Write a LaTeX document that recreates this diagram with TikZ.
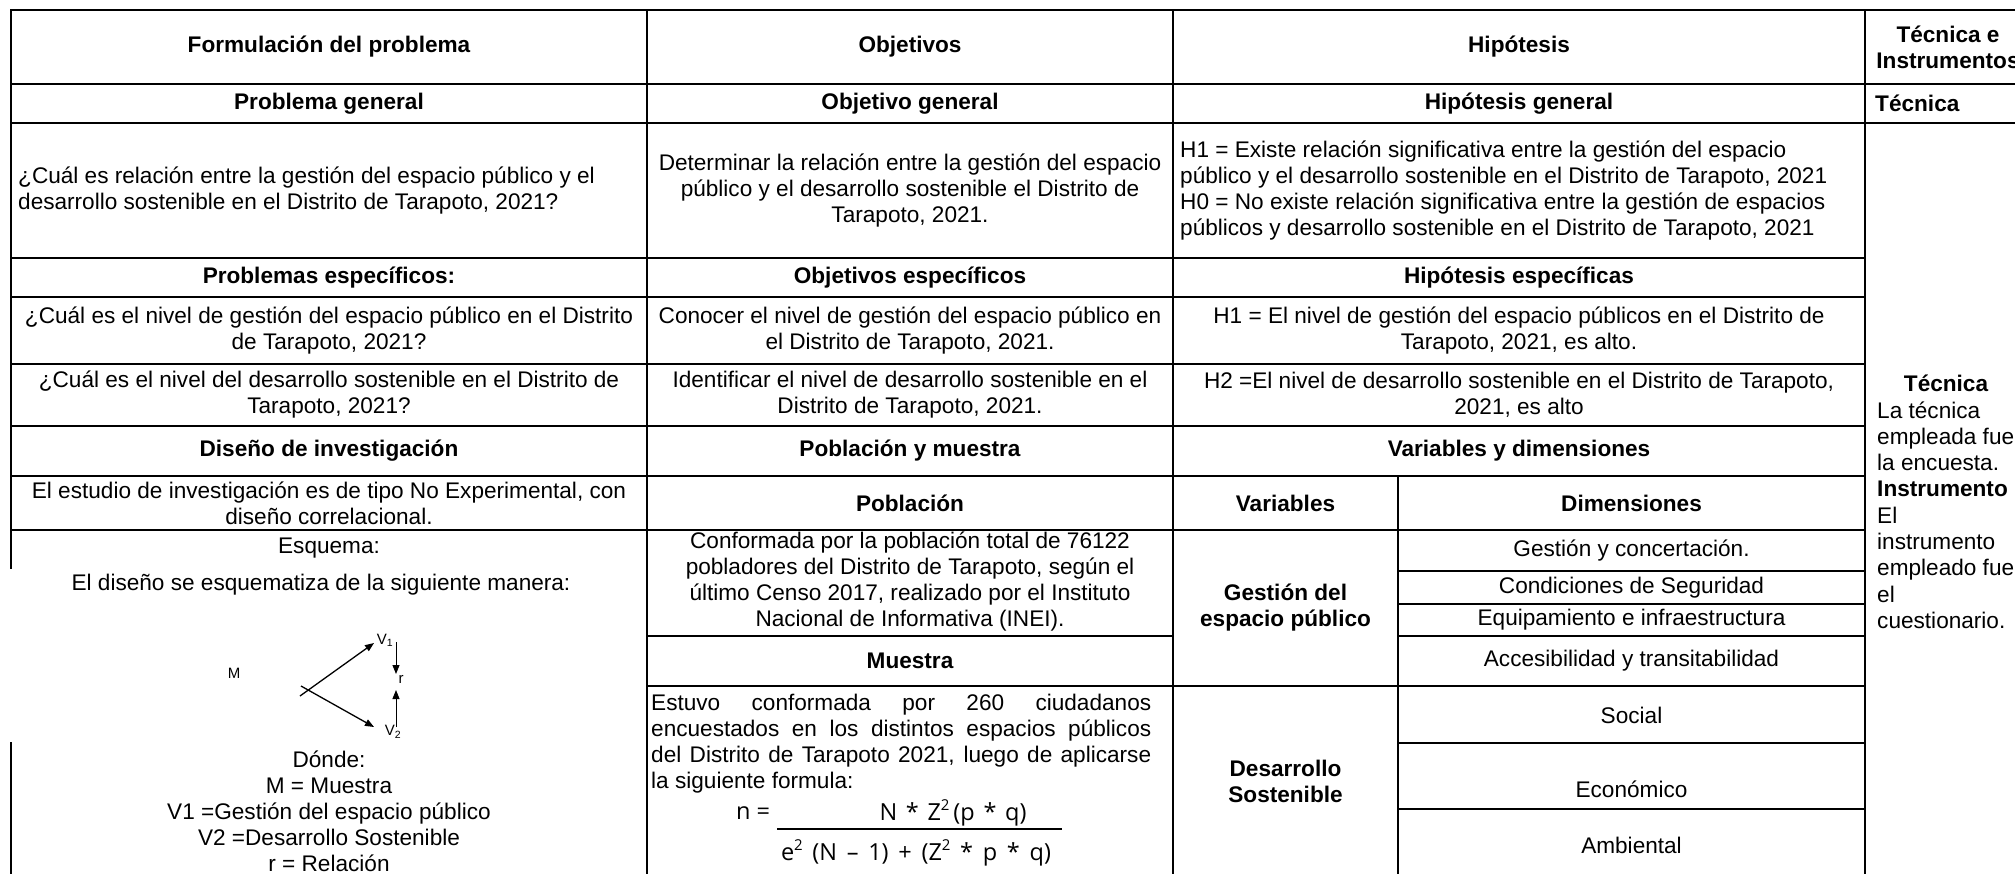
\documentclass[tikz,border=0pt]{standalone}
\usepackage{fontspec}
\setmainfont{Liberation Sans}
\newfontfamily\formfont{Open Sans}
\usetikzlibrary{arrows.meta}
\newcommand{\supii}{\raisebox{0.4em}{\fontsize{15}{15}\selectfont 2}}
\begin{document}
\begin{tikzpicture}[x=1pt,y=-1pt,
  tline/.style={line width=1.6pt, line cap=rect},
  txt/.style={inner sep=0pt, font=\fontsize{22.6}{26}\selectfont, align=center},
  hd/.style={inner sep=0pt, font=\fontsize{22.6}{26}\selectfont\bfseries, align=center},
  lft/.style={inner sep=0pt, font=\fontsize{22.6}{26}\selectfont, align=left, anchor=west},
  small/.style={inner sep=0pt, font=\fontsize{15}{18}\selectfont},
  frm/.style={inner sep=0pt, font=\formfont\fontsize{23.5}{26}\selectfont},
  dline/.style={line width=1.3pt},
  rline/.style={line width=0.9pt},
  tip/.style={-{Triangle[length=9pt,width=7pt]}}]
\useasboundingbox (0,0) rectangle (2015,873);
\clip (0,0) rectangle (2015,873);
\fill[white] (0,0) rectangle (2015,873);

% ---------- table rules ----------
\foreach \y in {10,84,123} \draw[tline] (11,\y) -- (2040,\y);
\foreach \y in {258,297,364,426,476,530} \draw[tline] (11,\y) -- (1865,\y);
\foreach \y in {636,686} \draw[tline] (647,\y) -- (1173,\y);
\draw[tline] (1173,686) -- (1865,686);
\foreach \y in {571,604,636,743,809} \draw[tline] (1398,\y) -- (1865,\y);
\draw[tline] (11,10) -- (11,568);
\draw[tline] (11,743) -- (11,880);
\foreach \x in {647,1173,1865} \draw[tline] (\x,10) -- (\x,880);
\draw[tline] (1398,476) -- (1398,880);

% ---------- column 1 ----------
\node[hd] (c1h) at (329,47) {Formulación del problema};
\node[hd] (c1pg) at (329,103.5) {Problema general};
\node[lft] (c1q) at (18,190.5) {¿Cuál es relación entre la gestión del espacio público y el\\desarrollo sostenible en el Distrito de Tarapoto, 2021?};
\node[hd] (c1pe) at (329,277.5) {Problemas específicos:};
\node[txt] (c1q1) at (329,330.5) {¿Cuál es el nivel de gestión del espacio público en el Distrito\\de Tarapoto, 2021?};
\node[txt] (c1q2) at (329,395) {¿Cuál es el nivel del desarrollo sostenible en el Distrito de\\Tarapoto, 2021?};
\node[hd] (c1di) at (329,451) {Diseño de investigación};
\node[txt] (c1es) at (329,503) {El estudio de investigación es de tipo No Experimental, con\\diseño correlacional.};
\node[txt] (c1esq) at (329,548) {Esquema:};
\node[txt] (c1dis) at (321,585) {El diseño se esquematiza de la siguiente manera:};
\node[txt] (c1don) at (329,811) {Dónde:\\M = Muestra\\V1 =Gestión del espacio público\\V2 =Desarrollo Sostenible\\r = Relación};

% diagram
\node[small] (M) at (234,673) {M};
\node[small] (V1) at (385,640) {V\textsubscript{1}};
\node[small] (V2) at (393,732) {V\textsubscript{2}};
\node[small] (r) at (401,679) {r};
\coordinate (a1s) at (300,696);
\coordinate (a1t) at (374,643);
\coordinate (a2s) at (301,686);
\coordinate (a2t) at (374,727);
\coordinate (r1s) at (396,642);
\coordinate (r1t) at (396,674);
\coordinate (r2s) at (396,727);
\coordinate (r2t) at (396,690);
\draw[dline,tip] (a1s) -- (a1t);
\draw[dline,tip] (a2s) -- (a2t);
\draw[rline,tip] (r1s) -- (r1t);
\draw[rline,tip] (r2s) -- (r2t);

% ---------- column 2 ----------
\node[hd] (c2h) at (910,47) {Objetivos};
\node[hd] (c2og) at (910,103.5) {Objetivo general};
\node[txt] (c2d) at (910,190.5) {Determinar la relación entre la gestión del espacio\\público y el desarrollo sostenible el Distrito de\\Tarapoto, 2021.};
\node[hd] (c2oe) at (910,277.5) {Objetivos específicos};
\node[txt] (c2o1) at (910,330.5) {Conocer el nivel de gestión del espacio público en\\el Distrito de Tarapoto, 2021.};
\node[txt] (c2o2) at (910,395) {Identificar el nivel de desarrollo sostenible en el\\Distrito de Tarapoto, 2021.};
\node[hd] (c2pm) at (910,451) {Población y muestra};
\node[hd] (c2p) at (910,503) {Población};
\node[txt] (c2pt) at (910,582) {Conformada por la población total de 76122\\pobladores del Distrito de Tarapoto, según el\\último Censo 2017, realizado por el Instituto\\Nacional de Informativa (INEI).};
\node[hd] (c2m) at (910,661) {Muestra};
\node[lft] (c2mt) at (651,744) {\makebox[500pt][s]{Estuvo conformada por 260 ciudadanos}\\\makebox[500pt][s]{encuestados en los distintos espacios públicos}\\\makebox[500pt][s]{del Distrito de Tarapoto 2021, luego de aplicarse}\\la siguiente formula:};
% formula
\node[frm] (fn) at (753,813) {n =};
\node[frm] (fnum) at (953,813) {\makebox[147pt][s]{N * Z\supii\,(p * q)}};
\node[frm] (fden) at (916,853) {\makebox[270pt][s]{e\supii\ (N – 1) + (Z\supii\ * p * q)}};
\coordinate (fl1) at (777,829);
\coordinate (fl2) at (1062,829);
\draw[line width=1.2pt] (fl1) -- (fl2);

% ---------- column 3 ----------
\node[hd] (c3h) at (1519,47) {Hipótesis};
\node[hd] (c3hg) at (1519,103.5) {Hipótesis general};
\node[lft] (c3ht) at (1180,191) {H1 = Existe relación significativa entre la gestión del espacio\\público y el desarrollo sostenible en el Distrito de Tarapoto, 2021\\H0 = No existe relación significativa entre la gestión de espacios\\públicos y desarrollo sostenible en el Distrito de Tarapoto, 2021};
\node[hd] (c3he) at (1519,277.5) {Hipótesis específicas};
\node[txt] (c3h1) at (1519,330.5) {H1 = El nivel de gestión del espacio públicos en el Distrito de\\Tarapoto, 2021, es alto.};
\node[txt] (c3h2) at (1519,395) {H2 =El nivel de desarrollo sostenible en el Distrito de Tarapoto,\\2021, es alto};
\node[hd] (c3vd) at (1519,451) {Variables y dimensiones};
\node[hd] (c3v) at (1285.5,503) {Variables};
\node[hd] (c3d) at (1631.5,503) {Dimensiones};
\node[hd] (c3v1) at (1285.5,608) {Gestión del\\espacio público};
\node[hd] (c3v2) at (1285.5,781) {Desarrollo\\Sostenible};
\node[txt] (d1) at (1631.5,550.5) {Gestión y concertación.};
\node[txt] (d2) at (1631.5,588) {Condiciones de Seguridad};
\node[txt] (d3) at (1631.5,620) {Equipamiento e infraestructura};
\node[txt] (d4) at (1631.5,661) {Accesibilidad y transitabilidad};
\node[txt] (d5) at (1631.5,715) {Social};
\node[txt] (d6) at (1631.5,789) {Económico};
\node[txt] (d7) at (1631.5,845) {Ambiental};

% ---------- column 4 ----------
\node[hd] (c4h) at (1948,47.5) {Técnica e\\Instrumentos};
\node[hd, anchor=west] (c4t) at (1875,103.5) {Técnica};
\node[hd] (c4tb) at (1946,383) {Técnica};
\node[inner sep=0pt, font=\fontsize{22.6}{26.3}\selectfont, align=left, anchor=west] (c4txt) at (1877,515) {La técnica\\empleada fue\\la encuesta.\\\textbf{Instrumento}\\El\\instrumento\\empleado fue\\el\\cuestionario.};
\end{tikzpicture}
\end{document}
